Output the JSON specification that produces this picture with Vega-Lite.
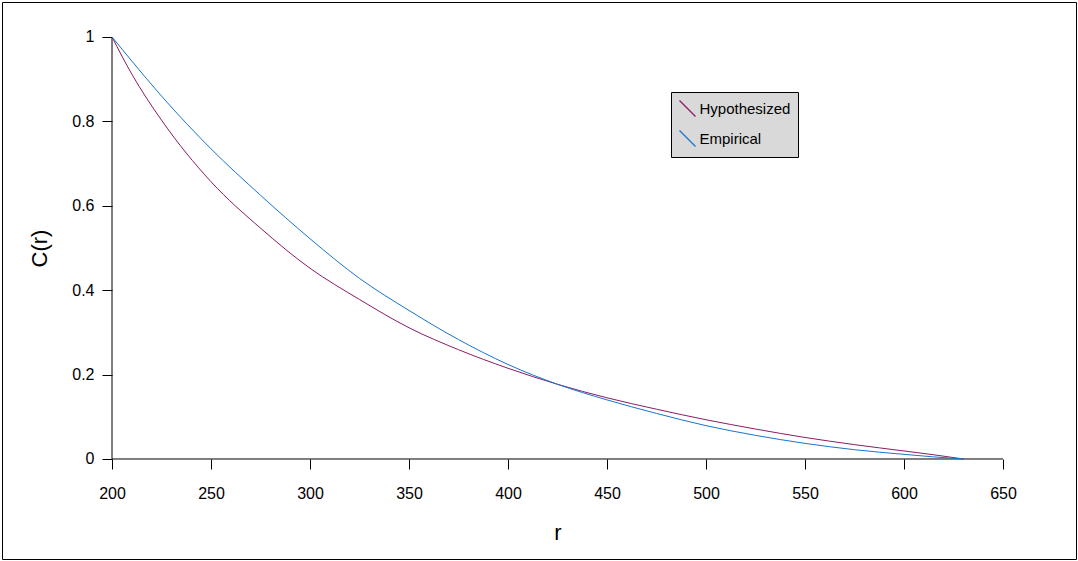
{
  "$schema": "https://vega.github.io/schema/vega-lite/v6.json",
  "width": 1074,
  "height": 557,
  "autosize": {"type": "none"},
  "padding": {"left": 2, "top": 2, "right": 2, "bottom": 2},
  "background": "white",
  "config": {
    "view": {"stroke": "black", "strokeWidth": 1},
    "font": "Liberation Sans",
    "axis": {"labelFont": "Liberation Sans", "titleFont": "Liberation Sans", "labelColor": "black", "titleColor": "black", "tickColor": "black", "titleFontWeight": "normal", "grid": false}
  },
  "data": {
    "values": [
      {"r": 200, "C": 1, "series": "Hypothesized"},
      {"r": 210, "C": 0.912, "series": "Hypothesized"},
      {"r": 225, "C": 0.803, "series": "Hypothesized"},
      {"r": 250, "C": 0.657, "series": "Hypothesized"},
      {"r": 275, "C": 0.547, "series": "Hypothesized"},
      {"r": 300, "C": 0.452, "series": "Hypothesized"},
      {"r": 325, "C": 0.378, "series": "Hypothesized"},
      {"r": 350, "C": 0.311, "series": "Hypothesized"},
      {"r": 375, "C": 0.259, "series": "Hypothesized"},
      {"r": 400, "C": 0.215, "series": "Hypothesized"},
      {"r": 425, "C": 0.177, "series": "Hypothesized"},
      {"r": 450, "C": 0.145, "series": "Hypothesized"},
      {"r": 475, "C": 0.118, "series": "Hypothesized"},
      {"r": 500, "C": 0.093, "series": "Hypothesized"},
      {"r": 525, "C": 0.071, "series": "Hypothesized"},
      {"r": 550, "C": 0.051, "series": "Hypothesized"},
      {"r": 575, "C": 0.034, "series": "Hypothesized"},
      {"r": 600, "C": 0.019, "series": "Hypothesized"},
      {"r": 615, "C": 0.010, "series": "Hypothesized"},
      {"r": 630, "C": 0, "series": "Hypothesized"},
      {"r": 200, "C": 1, "series": "Empirical"},
      {"r": 210, "C": 0.943, "series": "Empirical"},
      {"r": 225, "C": 0.860, "series": "Empirical"},
      {"r": 250, "C": 0.735, "series": "Empirical"},
      {"r": 275, "C": 0.625, "series": "Empirical"},
      {"r": 300, "C": 0.522, "series": "Empirical"},
      {"r": 325, "C": 0.428, "series": "Empirical"},
      {"r": 350, "C": 0.352, "series": "Empirical"},
      {"r": 375, "C": 0.283, "series": "Empirical"},
      {"r": 400, "C": 0.224, "series": "Empirical"},
      {"r": 425, "C": 0.177, "series": "Empirical"},
      {"r": 450, "C": 0.140, "series": "Empirical"},
      {"r": 475, "C": 0.108, "series": "Empirical"},
      {"r": 500, "C": 0.079, "series": "Empirical"},
      {"r": 525, "C": 0.056, "series": "Empirical"},
      {"r": 550, "C": 0.037, "series": "Empirical"},
      {"r": 575, "C": 0.022, "series": "Empirical"},
      {"r": 600, "C": 0.011, "series": "Empirical"},
      {"r": 615, "C": 0.005, "series": "Empirical"},
      {"r": 630, "C": 0, "series": "Empirical"}
    ]
  },
  "layer": [
    {
      "data": {"values": [{}]},
      "mark": {"type": "rule", "color": "black", "strokeWidth": 1},
      "encoding": {
        "x": {"datum": 200, "type": "quantitative"},
        "x2": {"datum": 650},
        "y": {"datum": 0, "type": "quantitative"}
      }
    },
    {
      "data": {"values": [{}]},
      "mark": {"type": "rule", "color": "black", "strokeWidth": 1},
      "encoding": {
        "x": {"datum": 200, "type": "quantitative"},
        "y": {"datum": 0, "type": "quantitative"},
        "y2": {"datum": 1}
      }
    },
    {
      "mark": {"type": "line", "strokeWidth": 1, "interpolate": "monotone"},
      "encoding": {
        "x": {
          "field": "r",
          "type": "quantitative",
          "scale": {"domain": [144.444, 686.87], "nice": false, "zero": false},
          "axis": {
            "values": [200, 250, 300, 350, 400, 450, 500, 550, 600, 650],
            "offset": -100,
            "domain": false,
            "tickSize": 10,
            "labelPadding": 16,
            "labelFontSize": 16,
            "title": "r",
            "titleFontSize": 22,
            "titlePadding": 21,
            "titleX": 555.5
          }
        },
        "y": {
          "field": "C",
          "type": "quantitative",
          "scale": {"domain": [-0.237, 1.0829], "nice": false, "zero": false},
          "axis": {
            "values": [0, 0.2, 0.4, 0.6, 0.8, 1],
            "format": "~g",
            "offset": -110,
            "domain": false,
            "tickSize": 10,
            "labelPadding": 8,
            "labelFontSize": 16,
            "title": "C(r)",
            "titleFontSize": 22,
            "titlePadding": 20,
            "titleY": 246
          }
        },
        "color": {
          "field": "series",
          "type": "nominal",
          "scale": {"domain": ["Hypothesized", "Empirical"], "range": ["#8B1C62", "#1874CD"]},
          "legend": {
            "orient": "none",
            "legendX": 669,
            "legendY": 90,
            "title": null,
            "fillColor": "#d9d9d9",
            "strokeColor": "black",
            "padding": 7.5,
            "symbolType": "M-1,-1L1,1",
            "symbolSize": 256,
            "symbolStrokeWidth": 1.2,
            "labelFontSize": 15,
            "labelFont": "Liberation Sans",
            "labelColor": "black",
            "labelOffset": 3,
            "rowPadding": 8
          }
        }
      }
    }
  ]
}
